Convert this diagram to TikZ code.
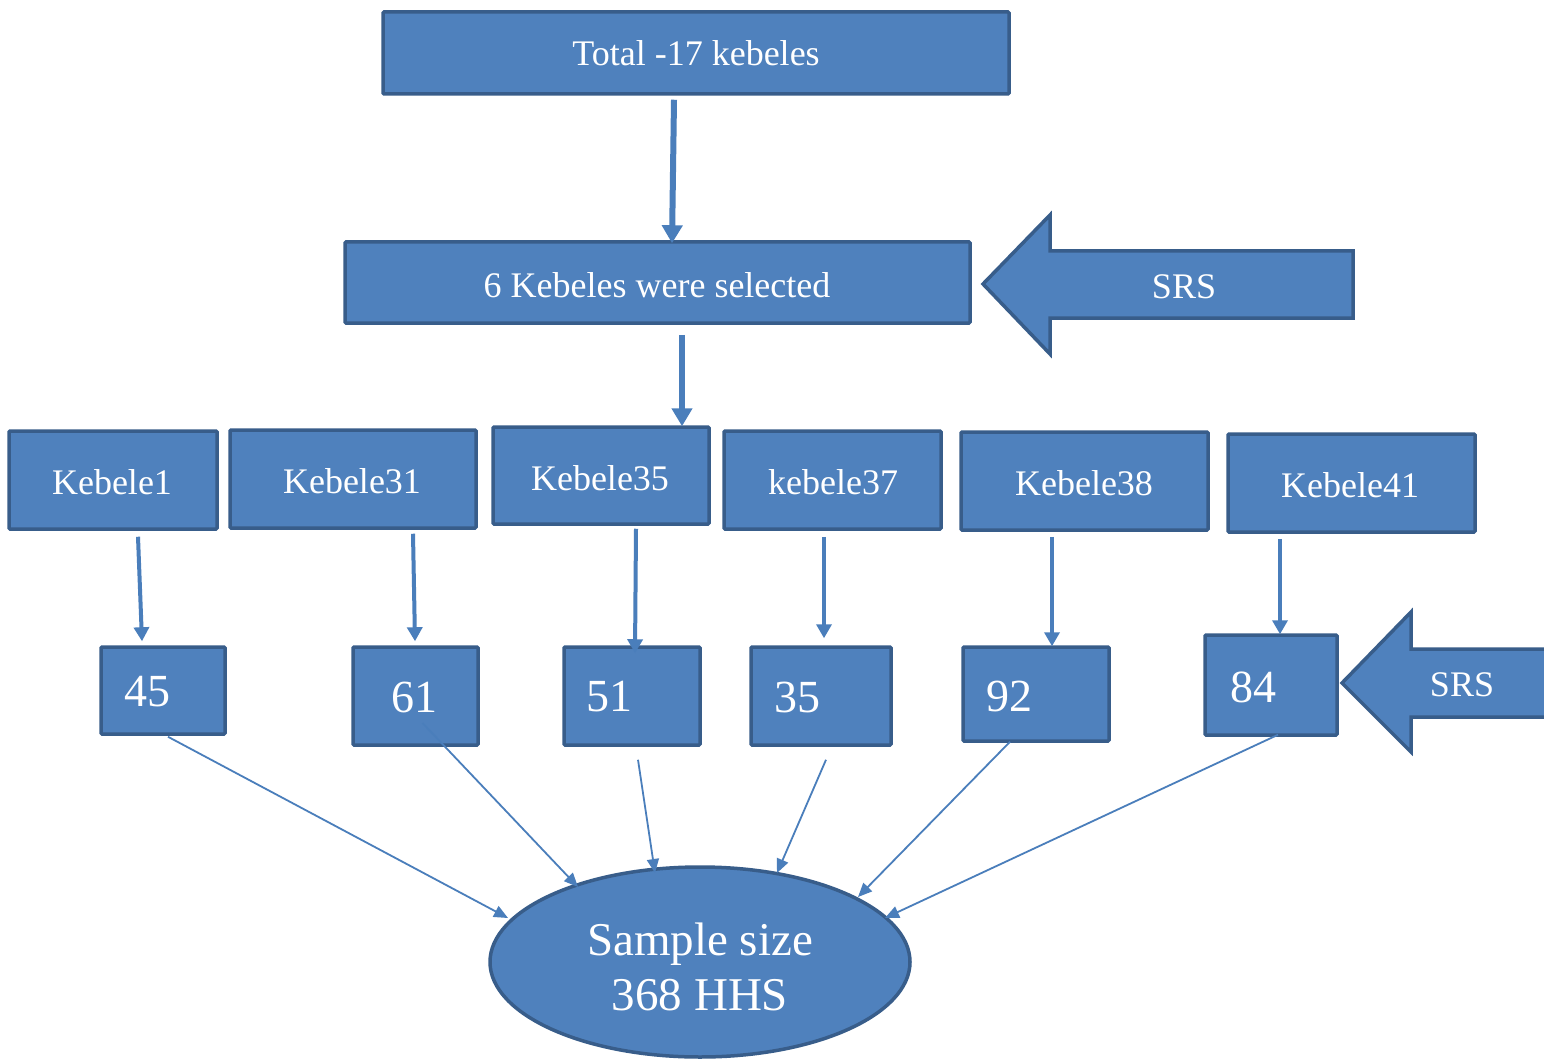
\documentclass[tikz,border=0pt]{standalone}
\usepackage{fontspec}
\setmainfont{Liberation Serif}
\usetikzlibrary{arrows.meta,calc,shapes.geometric}
\definecolor{fillc}{HTML}{4F81BD}
\definecolor{bordc}{HTML}{385D8A}
\definecolor{linec}{HTML}{4A7EBB}
\tikzset{
  box/.style={draw=bordc,fill=fillc,line width=3.5pt,rectangle,inner sep=0pt,rounded corners=1pt},
  txt/.style={text=white,inner sep=0pt,font=\fontsize{36}{40}\selectfont},
  numtxt/.style={text=white,inner sep=0pt,font=\fontsize{46}{50}\selectfont},
  bigarrow/.style={draw=bordc,fill=fillc,line width=3.5pt,line join=miter},
  thick conn/.style={draw=linec,line width=6pt,-{Triangle[width=20pt,length=18pt]}},
  mid conn/.style={draw=linec,line width=4pt,-{Triangle[width=15pt,length=14pt]}},
  thin conn/.style={draw=linec,line width=1.8pt,-{Triangle[width=12pt,length=14pt]}},
}
\begin{document}
\begin{tikzpicture}[x=1pt,y=-1pt]
\clip (0,0) rectangle (1544,1059);
\fill[white] (0,0) rectangle (1544,1059);

% top boxes
\node[box,minimum width=626,minimum height=82] (T) at (696,53) {};
\node[txt] (Ttxt) at (696,53) {Total -17 kebeles};
\node[box,minimum width=625,minimum height=81] (S) at (657.5,282.5) {};
\node[txt] (Stxt) at (657,285) {6 Kebeles were selected};

% SRS arrow 1
\draw[bigarrow] (983,284) -- (1050,215) -- (1050,251) -- (1353,251) -- (1353,318) -- (1050,318) -- (1050,354) -- cycle;
\node[txt] (srs1) at (1184,287) {SRS};

% kebele boxes
\node[box,minimum width=208,minimum height=98] (k1) at (113,480) {};
\node[txt] (k1t) at (112,482) {Kebele1};
\node[box,minimum width=246,minimum height=98] (k31) at (353,479) {};
\node[txt] (k31t) at (352,481) {Kebele31};
\node[box,minimum width=216,minimum height=97] (k35) at (601,475.5) {};
\node[txt] (k35t) at (600,478) {Kebele35};
\node[box,minimum width=217,minimum height=98] (k37) at (832.5,480) {};
\node[txt] (k37t) at (833,482) {kebele37};
\node[box,minimum width=247,minimum height=98] (k38) at (1084.5,481) {};
\node[txt] (k38t) at (1084,483) {Kebele38};
\node[box,minimum width=247,minimum height=98] (k41) at (1351.5,483) {};
\node[txt] (k41t) at (1350,485) {Kebele41};

% number boxes
\node[box,minimum width=124,minimum height=87] (n45) at (163,690.5) {};
\node[numtxt] (n45t) at (147,692) {45};
\node[box,minimum width=125,minimum height=98] (n61) at (415.5,696) {};
\node[numtxt] (n61t) at (414,697) {61};
\node[box,minimum width=136,minimum height=98] (n51) at (632,696) {};
\node[numtxt] (n51t) at (609,697) {51};
\node[box,minimum width=140,minimum height=98] (n35) at (821,696) {};
\node[numtxt] (n35t) at (797,697) {35};
\node[box,minimum width=146,minimum height=94] (n92) at (1036,694) {};
\node[numtxt] (n92t) at (1009,696) {92};
\node[box,minimum width=132,minimum height=100] (n84) at (1271,685) {};
\node[numtxt] (n84t) at (1253,687) {84};

% SRS arrow 2
\draw[bigarrow] (1342,683) -- (1411,612) -- (1411,649) -- (1570,649) -- (1570,717) -- (1411,717) -- (1411,752) -- cycle;
\node[txt] (srs2) at (1462,685) {SRS};

% ellipse
\node[ellipse,draw=bordc,fill=fillc,line width=3.5pt,minimum width=420,minimum height=190,inner sep=0pt] (E) at (700,962) {};
\node[text=white,inner sep=0pt,align=center,font=\fontsize{47}{55}\selectfont] (Et) at (700,967) {Sample size\\368 HHS};

% connectors
\draw[thick conn] ($(T.south)+(-22,4)$) -- ($(S.north)+(14.5,3)$);
\draw[thick conn] ($(S.south)+(24.5,10)$) -- ($(k35.north)+(81,1)$);

\draw[mid conn] ($(k1.south)+(25,6)$) -- ($(n45.north)+(-21,-4)$);
\draw[mid conn] ($(k31.south)+(60,4)$) -- ($(n61.north)+(-0.5,-4)$);
\draw[mid conn] ($(k35.south)+(35,3)$) -- ($(n51.north)+(3,8)$);
\draw[mid conn] ($(k37.south)+(-8.5,6)$) -- ($(n35.north)+(3,-7)$);
\draw[mid conn] ($(k38.south)+(-32.5,5)$) -- ($(n92.north)+(16,1)$);
\draw[mid conn] ($(k41.south)+(-71.5,5)$) -- ($(n84.north)+(9,1)$);

\draw[thin conn] ($(n45.south)+(5,1)$) -- ($(E.center)+(-192,-44)$);
\draw[thin conn] ($(n61.center)+(7,27)$) -- ($(E.center)+(-122,-75)$);
\draw[thin conn] ($(n51.south)+(6,13)$) -- ($(E.center)+(-45,-89)$);
\draw[thin conn] ($(n35.south)+(5,13)$) -- ($(E.center)+(77,-89)$);
\draw[thin conn] ($(n92.south)+(-26,-1)$) -- ($(E.center)+(158,-65)$);
\draw[thin conn] ($(n84.south)+(7,-2)$) -- ($(E.center)+(185,-44)$);
\end{tikzpicture}
\end{document}
